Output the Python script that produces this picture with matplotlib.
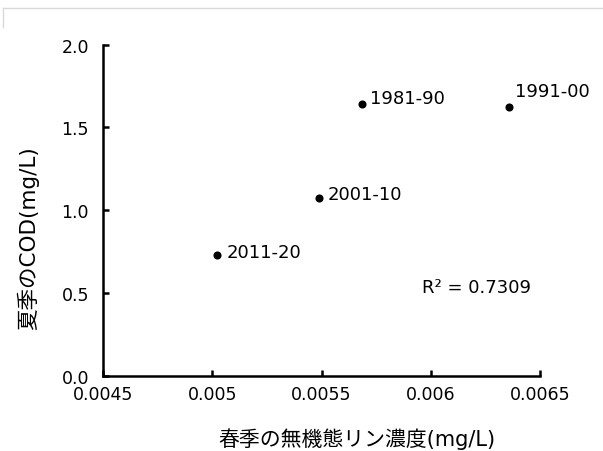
import matplotlib
matplotlib.use("Agg")
import matplotlib.pyplot as plt
from matplotlib.lines import Line2D

plt.rcParams['font.family'] = ['DejaVu Sans', 'Noto Sans CJK JP']

# spring inorganic phosphorus (mg/L) vs summer COD (mg/L), decade averages
periods = ["1981-90", "1991-00", "2001-10", "2011-20"]
phosphorus = [0.005685, 0.00636, 0.00549, 0.00502]
cod = [1.642, 1.622, 1.074, 0.731]
r2_text = "R² = 0.7309"
r2_pos = (0.00596, 0.504)

x_ticks = [0.0045, 0.005, 0.0055, 0.006, 0.0065]
x_tick_labels = ["0.0045", "0.005", "0.0055", "0.006", "0.0065"]
y_ticks = [0.0, 0.5, 1.0, 1.5, 2.0]

fig = plt.figure(figsize=(6.03, 4.52), dpi=100)
ax = fig.add_axes([103 / 603, 1 - 376.7 / 452, (540 - 103) / 603, (376.7 - 45.7) / 452])

ax.scatter(phosphorus, cod, s=34, color="black", zorder=3, linewidths=0)

# label offsets in points, baseline relative to the marker centre
offsets = {"1981-90": (6, 1), "1991-00": (4, 8), "2001-10": (6, -0.5), "2011-20": (7, -2)}
for name, px, py in zip(periods, phosphorus, cod):
    ax.annotate(name, (px, py), xytext=offsets[name], textcoords="offset points",
                fontsize=13, ha="left", va="baseline")

ax.text(r2_pos[0], r2_pos[1], r2_text, fontsize=13, ha="left", va="baseline")

ax.set_xlim(0.0045, 0.0065)
ax.set_ylim(0.0, 2.0)
ax.set_xticks(x_ticks)
ax.set_xticklabels(x_tick_labels)
ax.set_yticks(y_ticks)
ax.set_yticklabels([f"{v:.1f}" for v in y_ticks])

for side in ["top", "right"]:
    ax.spines[side].set_visible(False)
for side in ["left", "bottom"]:
    ax.spines[side].set_linewidth(1.8)
ax.tick_params(direction="in", length=4, width=1.8, labelsize=12.5)
ax.tick_params(axis="x", pad=7)
ax.tick_params(axis="y", pad=10)

ax.set_xlabel("春季の無機態リン濃度(mg/L)", fontsize=15)
ax.xaxis.set_label_coords((356.5 - 103) / 437, (376.7 - 428) / 331)
ax.set_ylabel("夏季のCOD(mg/L)", fontsize=15.5)
ax.yaxis.set_label_coords((39 - 103) / 437, (376.7 - 238) / 331)

# faint outer frame edge at top-left, as in the source
fig.add_artist(Line2D([3 / 603, 1.0], [1 - 9.3 / 452, 1 - 9.3 / 452],
                      transform=fig.transFigure, color="#d9d9d9", lw=1))
fig.add_artist(Line2D([3 / 603, 3 / 603], [1 - 9.3 / 452, 1 - 28 / 452],
                      transform=fig.transFigure, color="#d9d9d9", lw=1))

fig.savefig("out.png", dpi=100)
